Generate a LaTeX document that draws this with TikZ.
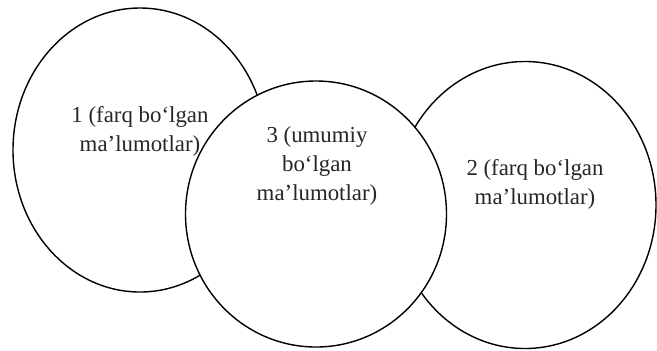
\documentclass[tikz,border=0pt]{standalone}
\usepackage{fontspec}
\setmainfont{Liberation Serif}
\usepackage{tikz}
\usetikzlibrary{shapes.geometric, positioning}

\begin{document}
\begin{tikzpicture}[auto]
        \tikzset{set/.style={ellipse,draw,line width=0.8pt,inner sep=0pt},
                 lbl/.style={align=center,font=\fontsize{13}{16.5}\selectfont,text=black!85}}
        \useasboundingbox (0,0) rectangle (13.14,-7.0);
        \node[set,minimum width=5.08cm,minimum height=5.68cm] (1) at (2.8,-3.0) {};
        \node[set,minimum width=5.24cm,minimum height=5.74cm] (2) at (10.5,-4.1) {};
        \node[set,fill=white,minimum width=5.22cm,minimum height=5.32cm] (3) at (6.32,-4.28) {};

        \node[lbl] (t1) at ([yshift=0.38cm]1.center) {1 (farq bo‘lgan\\ma’lumotlar)};
        \node[lbl] (t3) at ([xshift=0.02cm,yshift=0.96cm]3.center) {3 (umumiy\\bo‘lgan\\ma’lumotlar)};
        \node[lbl] (t2) at ([xshift=0.2cm,yshift=0.42cm]2.center) {2 (farq bo‘lgan\\ma’lumotlar)};
    \end{tikzpicture}
\end{document}
